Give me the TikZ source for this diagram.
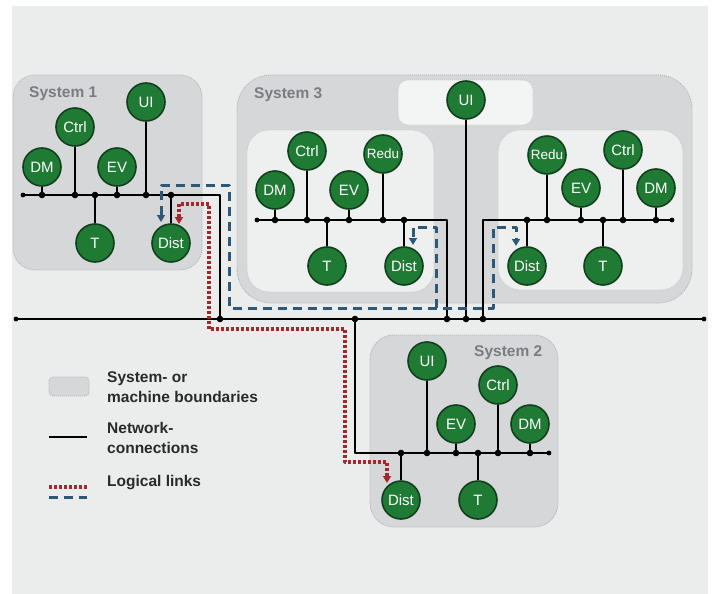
\documentclass[tikz,border=0pt]{standalone}
\usepackage{fontspec}
\setmainfont{Liberation Sans}
\usetikzlibrary{arrows.meta}

\definecolor{bggrey}{HTML}{EBECEC}
\definecolor{sysgrey}{HTML}{D6D7D9}
\definecolor{subgrey}{HTML}{EEEFEF}
\definecolor{uiboxc}{HTML}{F3F4F4}
\definecolor{compgreen}{HTML}{1F7A34}
\definecolor{compedge}{HTML}{123F1E}
\definecolor{linkred}{HTML}{A3282B}
\definecolor{linkblue}{HTML}{2E5878}
\definecolor{titlegrey}{HTML}{7B7C82}
\definecolor{legtextc}{HTML}{2A2A2A}

\tikzset{
	comp/.style={circle, draw=compedge, line width=1.6pt, fill=compgreen, minimum size=38pt, inner sep=0pt, text=white, font=\fontsize{15}{15}\selectfont},
	net/.style={line width=2.4pt, black},
	sysbox/.style={fill=sysgrey, draw=gray!60, line width=0.8pt, dash pattern=on 1pt off 1pt},
	subbox/.style={fill=subgrey, draw=gray!45, line width=0.8pt, dash pattern=on 1pt off 1pt},
	systitle/.style={font=\fontsize{15.5}{18}\selectfont\bfseries, text=titlegrey, inner sep=0pt, anchor=west},
	legtext/.style={font=\fontsize{15.5}{20}\selectfont\bfseries, text=legtextc, inner sep=0pt, anchor=west, align=left},
	redlink/.style={linkred, line width=3.2pt, dash pattern=on 3pt off 2pt},
	bluelink/.style={linkblue, line width=3pt, dash pattern=on 9pt off 6pt},
	tip/.style={-{Triangle[length=7pt,width=8pt]}},
	tips/.style={{Triangle[length=7pt,width=8pt]}-{Triangle[length=7pt,width=8pt]}}
}

\begin{document}
\begin{tikzpicture}[x=1pt, y=-1pt, line join=round]
	\useasboundingbox (0,0) rectangle (715,594);
	\fill[bggrey] (12,6) rectangle (708,594);
	
	% Grenzen der Systeme
	\draw[sysbox, rounded corners=22pt] (13,75) rectangle (202,270);
	\draw[sysbox, rounded corners=34pt] (237,75) rectangle (692,303);
	\draw[subbox, rounded corners=22pt] (247,130) rectangle (434,292);
	\draw[subbox, rounded corners=22pt] (498,130) rectangle (683,290);
	\draw[subbox, fill=uiboxc, rounded corners=10pt] (398,80) rectangle (533,125);
	\draw[sysbox, rounded corners=24pt] (370,335) rectangle (558,527);
	
	\node[systitle] (s1title) at (29,94) {System 1};
	\node[systitle] (s3title) at (254,95) {System 3};
	\node[systitle] (s2title) at (474,353) {System 2};
	
	\coordinate (busL) at (16,319);
	\coordinate (busR) at (704,319);
	\draw[net] (busL) -- (busR);
	\fill (busL) circle (2.4pt);
	\fill (busR) circle (2.4pt);
	
	% System 1
	\node[comp] (s1DM) at (42,167) {DM};
	\node[comp] (s1Ctrl) at (75,127) {Ctrl};
	\node[comp] (s1EV) at (117,167) {EV};
	\node[comp] (s1UI) at (146,102) {UI};
	\node[comp] (s1T) at (95,243) {T};
	\node[comp] (s1Dist) at (171,243) {Dist};
	\coordinate (s1a) at (23,195);
	\coordinate (s1b) at (220,195);
	\draw[net] (s1a) -- (s1b) -- (s1b |- busL);
	\foreach \n in {s1DM,s1Ctrl,s1EV,s1UI,s1T,s1Dist} {
		\draw[net] (\n) -- (\n |- s1a);
		\fill (\n |- s1a) circle (3.3pt);
	}
	\fill (s1a) circle (2.4pt);
	\fill (s1b |- busL) circle (3.3pt);
	
	% System 3
	\node[comp] (s3UI) at (466,100) {UI};
	\draw[net] (s3UI) -- (s3UI |- busL);
	\fill (s3UI |- busL) circle (3.3pt);
	
	\node[comp] (s3DM) at (275,190) {DM};
	\node[comp] (s3Ctrl) at (307,151) {Ctrl};
	\node[comp] (s3EV) at (349,190) {EV};
	\node[comp, font=\fontsize{13.5}{14}\selectfont] (s3Redu) at (383,154) {Redu};
	\node[comp] (s3T) at (327,266) {T};
	\node[comp] (s3Dist) at (404,266) {Dist};
	\coordinate (s3a) at (257,220);
	\coordinate (s3b) at (447,220);
	\draw[net] (s3a) -- (s3b) -- (s3b |- busL);
	\foreach \n in {s3DM,s3Ctrl,s3EV,s3Redu,s3T,s3Dist} {
		\draw[net] (\n) -- (\n |- s3a);
		\fill (\n |- s3a) circle (3.3pt);
	}
	\fill (s3a) circle (2.4pt);
	\fill (s3b |- busL) circle (3.3pt);
	
	\node[comp, font=\fontsize{13.5}{14}\selectfont] (s4Redu) at (547,155) {Redu};
	\node[comp] (s4Ctrl) at (623,150) {Ctrl};
	\node[comp] (s4EV) at (581,188) {EV};
	\node[comp] (s4DM) at (656,188) {DM};
	\node[comp] (s4Dist) at (527,266) {Dist};
	\node[comp] (s4T) at (603,266) {T};
	\coordinate (s4a) at (483,220);
	\coordinate (s4b) at (672,220);
	\draw[net] (s4a |- busL) -- (s4a) -- (s4b);
	\foreach \n in {s4Redu,s4Ctrl,s4EV,s4DM,s4Dist,s4T} {
		\draw[net] (\n) -- (\n |- s4a);
		\fill (\n |- s4a) circle (3.3pt);
	}
	\fill (s4b) circle (2.4pt);
	\fill (s4a |- busL) circle (3.3pt);
	
	% System 2
	\node[comp] (s2UI) at (427,361) {UI};
	\node[comp] (s2Ctrl) at (498,385) {Ctrl};
	\node[comp] (s2EV) at (456,424) {EV};
	\node[comp] (s2DM) at (530,424) {DM};
	\node[comp] (s2Dist) at (401,500) {Dist};
	\node[comp] (s2T) at (478,500) {T};
	\coordinate (s2a) at (355,453);
	\coordinate (s2b) at (549,453);
	\draw[net] (s2a |- busL) -- (s2a) -- (s2b);
	\foreach \n in {s2UI,s2Ctrl,s2EV,s2DM,s2Dist,s2T} {
		\draw[net] (\n) -- (\n |- s2a);
		\fill (\n |- s2a) circle (3.3pt);
	}
	\fill (s2b) circle (2.4pt);
	\fill (s2a |- busL) circle (3.3pt);
	
	% logische Verbindungen
	\coordinate (redA) at (179,224);
	\coordinate (redB) at (387,483);
	\draw[redlink, tips] (redA) |- (209,204) |- (345,329) |- (387,462) -- (redB);
	
	\coordinate (blueA) at (161,222);
	\coordinate (blueB) at (516,246);
	\coordinate (blueC) at (413,245);
	\draw[bluelink, tips] (blueA) |- (229,185) |- (493,308) |- (516,227) -- (blueB);
	\draw[bluelink, tip] (436,308) |- (413,227) -- (blueC);
	
	% Legende
	\draw[sysbox, rounded corners=4pt] (49,377) rectangle (89,396);
	\node[legtext] (legSys) at (107,387) {System- or\\machine boundaries};
	\draw[net] (49,437) -- (87,437);
	\node[legtext] (legNet) at (107,438) {Network-\\connections};
	\draw[redlink] (49,487) -- (87,487);
	\draw[bluelink] (49,497) -- (87,497);
	\node[legtext] (legLog) at (107,483) {Logical links};
\end{tikzpicture}
\end{document}
